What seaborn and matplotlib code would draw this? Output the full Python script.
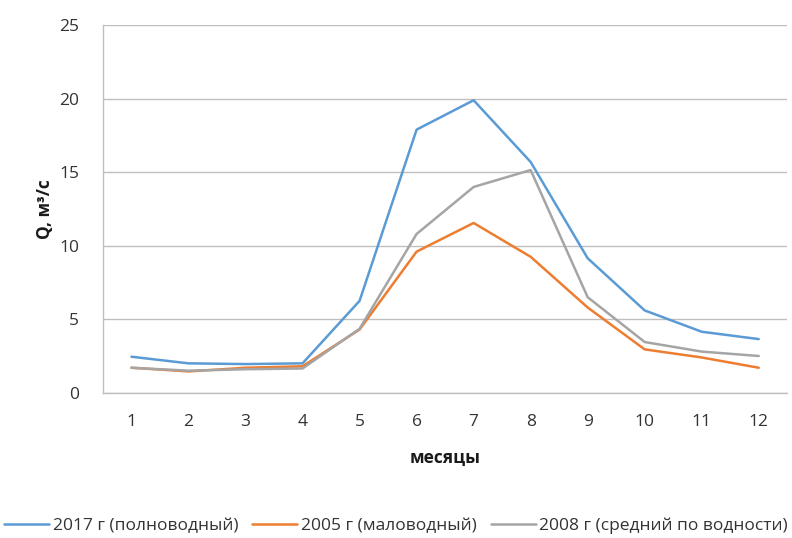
import matplotlib
matplotlib.use("Agg")
import matplotlib.pyplot as plt
import seaborn as sns
import pandas as pd

months = [1, 2, 3, 4, 5, 6, 7, 8, 9, 10, 11, 12]
q_2017 = [2.45, 2.0, 1.95, 2.0, 6.25, 17.9, 19.9, 15.7, 9.15, 5.6, 4.15, 3.65]
q_2005 = [1.7, 1.45, 1.7, 1.8, 4.3, 9.6, 11.55, 9.25, 5.8, 2.95, 2.4, 1.7]
q_2008 = [1.7, 1.5, 1.6, 1.65, 4.35, 10.8, 14.0, 15.15, 6.5, 3.45, 2.8, 2.5]

series_names = ["2017 г (полноводный)", "2005 г (маловодный)", "2008 г (средний по водности)"]
series_colors = ["#5B9BD5", "#ED7D31", "#A5A5A5"]
y_ticks = [0, 5, 10, 15, 20, 25]

frames = []
for name, vals in zip(series_names, [q_2017, q_2005, q_2008]):
    frames.append(pd.DataFrame({"month": months, "Q": vals, "series": name}))
df = pd.concat(frames, ignore_index=True)

sns.set_theme(style="white")
plt.rcParams["font.family"] = ["Open Sans", "DejaVu Sans"]

fig = plt.figure(figsize=(7.92, 5.38), dpi=100)
ax = fig.add_axes([0.13, 0.27, 0.864, 0.683])

sns.lineplot(data=df, x="month", y="Q", hue="series", palette=series_colors,
             hue_order=series_names, linewidth=1.8, ax=ax, legend=True)

ax.set_xlim(0.5, 12.5)
ax.set_ylim(0, 25)
ax.set_yticks(y_ticks)
ax.set_xticks(months)
ax.set_xticks([m + 0.5 for m in months[:-1]] + [0.5, 12.5], minor=True)
ax.grid(axis="y", color="#BFBFBF", linewidth=1.0)
ax.set_axisbelow(True)

for side in ["top", "right"]:
    ax.spines[side].set_visible(False)
for side in ["left", "bottom"]:
    ax.spines[side].set_color("#BFBFBF")
    ax.spines[side].set_linewidth(1.0)

ax.tick_params(axis="x", which="major", length=0, pad=15, labelsize=12.5)
ax.tick_params(axis="x", which="minor", length=5, color="#BFBFBF", width=1.0, direction="out")
ax.tick_params(axis="y", which="major", length=5, color="#BFBFBF", width=1.0, direction="out",
               pad=12, labelsize=12.5)
ax.tick_params(axis="both", which="major", labelcolor="#333333")

ax.set_xlabel("месяцы", fontsize=12.5, fontweight="bold", color="#1a1a1a", labelpad=14)
ax.set_ylabel("Q, м³/с", fontsize=12.5, fontweight="bold", color="#1a1a1a", labelpad=4)

handles, labels = ax.get_legend_handles_labels()
ax.legend_.remove()
fig.legend(handles, labels, loc="center", bbox_to_anchor=(0.5, 0.022), ncol=3,
           frameon=False, fontsize=12.5, handlelength=2.6, handletextpad=0.2,
           columnspacing=0.8, labelcolor="#333333")

fig.savefig("out.png", dpi=100)
